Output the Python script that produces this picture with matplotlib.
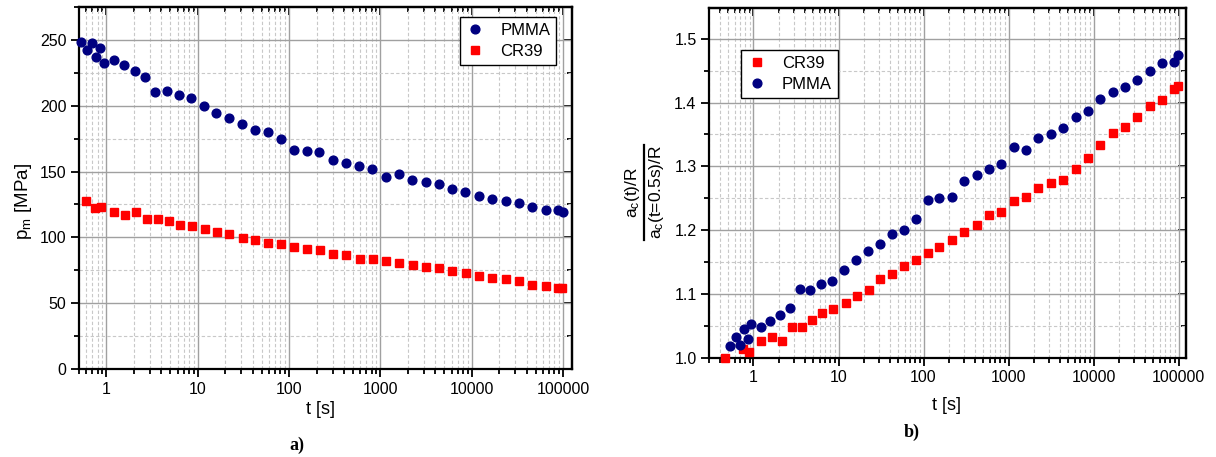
import matplotlib
matplotlib.use('Agg')
import matplotlib.pyplot as plt
from matplotlib.lines import Line2D
from matplotlib.ticker import (LogLocator, MultipleLocator, FixedLocator, FixedFormatter,
                               NullFormatter, FormatStrFormatter)

plt.rcParams['font.family'] = ['Liberation Sans', 'DejaVu Sans']
plt.rcParams['mathtext.fontset'] = 'custom'
plt.rcParams['mathtext.rm'] = 'Liberation Sans'
plt.rcParams['mathtext.it'] = 'Liberation Sans:italic'

# ---- panel a) : mean pressure p_m vs time ----
t_pmma_a = [0.52, 0.61, 0.69, 0.77, 0.84, 0.93, 1.2, 1.56, 2.03, 2.65, 3.44, 4.62, 6.25, 8.47,
            11.7, 16.0, 22.1, 30.6, 42.2, 58, 80.5, 112, 155, 214, 299, 419, 586, 813,
            1148, 1585, 2237, 3147, 4366, 6110, 8490, 12000, 16760, 23440, 32890, 46000,
            64300, 88500, 100500]
p_pmma = [248.5, 242.2, 247.6, 236.9, 244, 232.3, 235.1, 230.8, 226.5, 221.9, 210.3, 211.3,
          207.8, 205.9, 199.8, 194.8, 190.5, 186.4, 181.6, 180.1, 175, 166.4, 165.9, 165.1,
          158.5, 156.8, 154.2, 152.2, 146.1, 147.9, 143.3, 142, 140.3, 136.4, 134.7, 131.1,
          129.1, 127.5, 125.8, 122.8, 120.7, 121, 119.5]

t_cr39_a = [0.59, 0.74, 0.875, 1.22, 1.61, 2.13, 2.77, 3.66, 4.86, 6.46, 8.61, 11.96, 16.4,
            22.2, 30.9, 42.6, 58, 81.3, 113, 155, 217, 302, 422, 590, 819, 1148, 1607, 2249,
            3150, 4374, 6110, 8550, 12000, 16760, 23440, 32890, 46000, 64300, 88500, 97000]
p_cr39 = [127.9, 122.2, 123.3, 119, 117.2, 119.5, 114.1, 113.9, 112.3, 109.6, 108.3, 106.5,
          104.3, 102.7, 99.4, 98.2, 95.6, 94.6, 92.8, 91.5, 90.3, 87.7, 86.7, 83.7, 83.4, 81.7,
          80.9, 79.1, 77.6, 76.9, 74.8, 72.8, 70.5, 68.9, 68.2, 66.7, 63.9, 63.4, 61.9, 61.6]

# ---- panel b) : normalised crack length vs time ----
t_pmma_b = [0.53, 0.62, 0.70, 0.776, 0.857, 0.94, 1.23, 1.58, 2.04, 2.69, 3.53, 4.68, 6.23, 8.4,
            11.7, 16.2, 22.2, 30.5, 42.5, 58.9, 80.7, 112, 153, 216, 301, 421, 587, 821,
            1155, 1600, 2235, 3142, 4395, 6124, 8550, 11960, 16680, 23500, 32800, 45800,
            64500, 89300, 98600]
a_pmma = [1.019, 1.033, 1.021, 1.045, 1.030, 1.054, 1.049, 1.058, 1.068, 1.079, 1.108, 1.107,
          1.116, 1.120, 1.1375, 1.153, 1.167, 1.178, 1.194, 1.200, 1.217, 1.248, 1.250, 1.252,
          1.277, 1.286, 1.296, 1.304, 1.331, 1.325, 1.345, 1.350, 1.360, 1.377, 1.387, 1.406,
          1.416, 1.425, 1.435, 1.450, 1.4625, 1.4636, 1.4745]

t_cr39_b = [0.46, 0.75, 0.887, 1.23, 1.64, 2.15, 2.82, 3.7, 4.89, 6.47, 8.71, 12.2, 16.7, 22.6,
            30.8, 43, 58.9, 81.4, 113, 153, 216, 301, 421, 587, 821, 1155, 1600, 2235, 3142,
            4395, 6124, 8550, 11960, 16680, 23500, 32800, 45800, 64500, 89300, 98600]
a_cr39 = [1.000, 1.0136, 1.009, 1.026, 1.033, 1.026, 1.048, 1.048, 1.060, 1.071, 1.0766, 1.086,
          1.097, 1.106, 1.124, 1.131, 1.144, 1.153, 1.165, 1.1745, 1.184, 1.198, 1.208, 1.2245,
          1.229, 1.2465, 1.2513, 1.2655, 1.2745, 1.279, 1.296, 1.313, 1.334, 1.353, 1.361,
          1.378, 1.394, 1.404, 1.421, 1.4255]

x_ticks = [1, 10, 100, 1000, 10000, 100000]
x_tick_labels = ['1', '10', '100', '1000', '10000', '100000']

NAVY = '#000080'
RED = '#ff0000'
FS = 11.5

W, H = 1216, 457
fig = plt.figure(figsize=(W / 100, H / 100), dpi=100)


def px_axes(x0, y0, x1, y1):
    return fig.add_axes([x0 / W, 1 - y1 / H, (x1 - x0) / W, (y1 - y0) / H])


def px_text(x, y, s, **kw):
    return fig.text(x / W, 1 - y / H, s, ha='center', va='center', **kw)


def style_axes(ax, ymajor, yminor):
    ax.set_xscale('log')
    ax.xaxis.set_major_locator(FixedLocator(x_ticks))
    ax.xaxis.set_major_formatter(FixedFormatter(x_tick_labels))
    ax.xaxis.set_minor_locator(LogLocator(base=10, subs=range(2, 10), numticks=20))
    ax.xaxis.set_minor_formatter(NullFormatter())
    ax.yaxis.set_major_locator(MultipleLocator(ymajor))
    ax.yaxis.set_minor_locator(MultipleLocator(yminor))
    ax.grid(which='major', color='#a0a0a0', linewidth=1.0, linestyle='-')
    ax.grid(which='minor', color='#c8c8c8', linewidth=0.8, linestyle=(0, (3, 2)))
    ax.set_axisbelow(True)
    for s in ax.spines.values():
        s.set_linewidth(1.6)
    ax.tick_params(which='both', direction='out', labelsize=FS, width=1.3, pad=3)
    ax.tick_params(which='major', length=6)
    ax.tick_params(which='minor', length=3.5)
    # mirrored axes with inward ticks (top / right)
    top = ax.secondary_xaxis('top', functions=(lambda v: v, lambda v: v))
    top.xaxis.set_major_locator(FixedLocator(x_ticks))
    top.xaxis.set_minor_locator(LogLocator(base=10, subs=range(2, 10), numticks=20))
    top.tick_params(which='both', direction='in', labeltop=False, width=1.3)
    top.tick_params(which='major', length=6)
    top.tick_params(which='minor', length=3.5)
    top.spines['top'].set_linewidth(1.6)
    right = ax.secondary_yaxis('right', functions=(lambda v: v, lambda v: v))
    right.yaxis.set_major_locator(MultipleLocator(ymajor))
    right.yaxis.set_minor_locator(MultipleLocator(yminor))
    right.tick_params(which='both', direction='in', labelright=False, width=1.3)
    right.tick_params(which='major', length=6)
    right.tick_params(which='minor', length=3.5)
    right.spines['right'].set_linewidth(1.6)


def legend(ax, **kw):
    leg = ax.legend(fontsize=12, numpoints=1, fancybox=False, framealpha=1,
                    edgecolor='black', borderpad=0.35, handletextpad=0.9,
                    labelspacing=0.35, handlelength=1.2, borderaxespad=0, **kw)
    leg.get_frame().set_linewidth(1.0)


# panel a
ax1 = px_axes(79, 7, 572, 369)
ax1.plot(t_pmma_a, p_pmma, 'o', color=NAVY, ms=6.3, mec=NAVY, label='PMMA', clip_on=False, zorder=3)
ax1.plot(t_cr39_a, p_cr39, 's', color=RED, ms=5.6, mec=RED, label='CR39', clip_on=False, zorder=3)
ax1.set_xlim(0.5, 125000)
ax1.set_ylim(0, 275)
style_axes(ax1, 50, 25)
legend(ax1, loc='upper right', bbox_to_anchor=(0.968, 0.971))

# panel b
ax2 = px_axes(709, 8, 1186, 358)
ax2.plot(t_cr39_b, a_cr39, 's', color=RED, ms=5.6, mec=RED, label='CR39', clip_on=False, zorder=3)
ax2.plot(t_pmma_b, a_pmma, 'o', color=NAVY, ms=6.3, mec=NAVY, label='PMMA', clip_on=False, zorder=3)
ax2.set_xlim(0.3, 122000)
ax2.set_ylim(1.0, 1.548)
style_axes(ax2, 0.1, 0.05)
ax2.yaxis.set_major_formatter(FormatStrFormatter('%.1f'))
legend(ax2, loc='upper left', bbox_to_anchor=(0.067, 0.879))

# axis labels
px_text(320, 410, 't [s]', fontsize=13)
px_text(947, 406, 't [s]', fontsize=13)
px_text(23, 202, r'p$_\mathrm{m}$ [MPa]', fontsize=13.5, rotation=90)

# fraction label of panel b
px_text(632, 192, r'a$_\mathrm{c}$(t)/R', fontsize=12.5, rotation=90)
px_text(657, 192, r'a$_\mathrm{c}$(t=0.5s)/R', fontsize=12.5, rotation=90)
fig.add_artist(Line2D([644 / W, 644 / W], [1 - 145 / H, 1 - 240 / H],
                      transform=fig.transFigure, color='black', linewidth=1.6))

px_text(297, 445, 'a)', fontsize=13, fontweight='bold', family='Liberation Serif')
px_text(912, 432, 'b)', fontsize=13, fontweight='bold', family='Liberation Serif')

fig.savefig('out.png', dpi=100)
